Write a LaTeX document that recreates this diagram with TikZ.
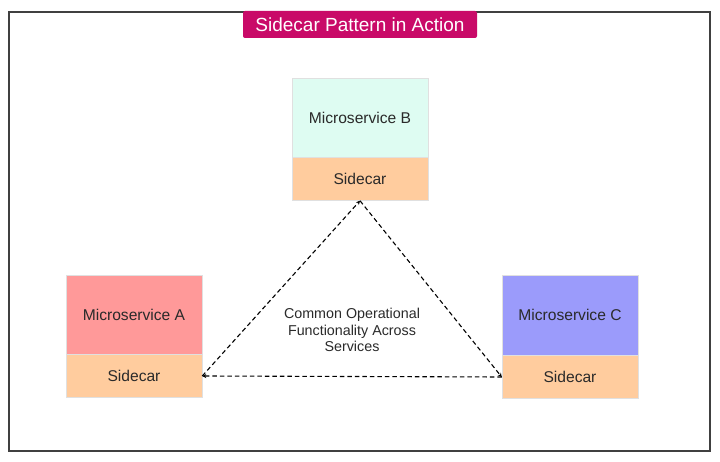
\documentclass[tikz,border=0pt]{standalone}
\usepackage{fontspec}
\setmainfont{Liberation Sans}
\usetikzlibrary{arrows.meta}
\definecolor{titlemag}{HTML}{C90A68}
\definecolor{mint}{HTML}{DEFCF2}
\definecolor{peach}{HTML}{FFCC9E}
\definecolor{rosebox}{HTML}{FF9999}
\definecolor{violetbox}{HTML}{9B9BFB}
\definecolor{txt}{HTML}{2A2A2A}
\begin{document}
\begin{tikzpicture}[x=1pt,y=-1pt,
  svc/.style={draw=black!12,line width=0.5pt,minimum width=136pt,inner sep=0pt,text=txt,font=\fontsize{15.6}{18}\selectfont},
  dashline/.style={draw=black,dashed,dash pattern=on 4.5pt off 3pt,line width=1.1pt,-{Stealth[length=4pt,width=4pt]}}]
\useasboundingbox (0,0) rectangle (720,462);
\fill[white] (0,0) rectangle (720,462);
\draw[line width=1.6pt,draw=black!75] (9,12) rectangle (710,451);
% title
\node[fill=titlemag,rounded corners=2pt,minimum width=234pt,minimum height=27pt,inner sep=0pt,text=white,font=\fontsize{19}{22}\selectfont] (title) at (360,24.5) {Sidecar Pattern in Action};
% B
\node[svc,fill=mint,minimum height=79pt] (bt) at (360,117.5) {Microservice B};
\node[svc,fill=peach,minimum height=43pt,anchor=north] (bs) at (bt.south) {Sidecar};
% A
\node[svc,fill=rosebox,minimum height=79pt] (at) at (134,314.5) {Microservice A};
\node[svc,fill=peach,minimum height=43pt,anchor=north] (as) at (at.south) {Sidecar};
% C
\node[svc,fill=violetbox,minimum height=80pt] (ct) at (570,315) {Microservice C};
\node[svc,fill=peach,minimum height=43pt,anchor=north] (cs) at (ct.south) {Sidecar};
% center text
\node[align=center,text=txt,font=\fontsize{14.3}{16.8}\selectfont] (mid) at (352,330) {Common Operational\\Functionality Across\\Services};
% triangle
\draw[dashline] (as.east) -- (bs.south);
\draw[dashline] (bs.south) -- (cs.west);
\draw[dashline] (cs.west) -- (as.east);
\end{tikzpicture}
\end{document}
